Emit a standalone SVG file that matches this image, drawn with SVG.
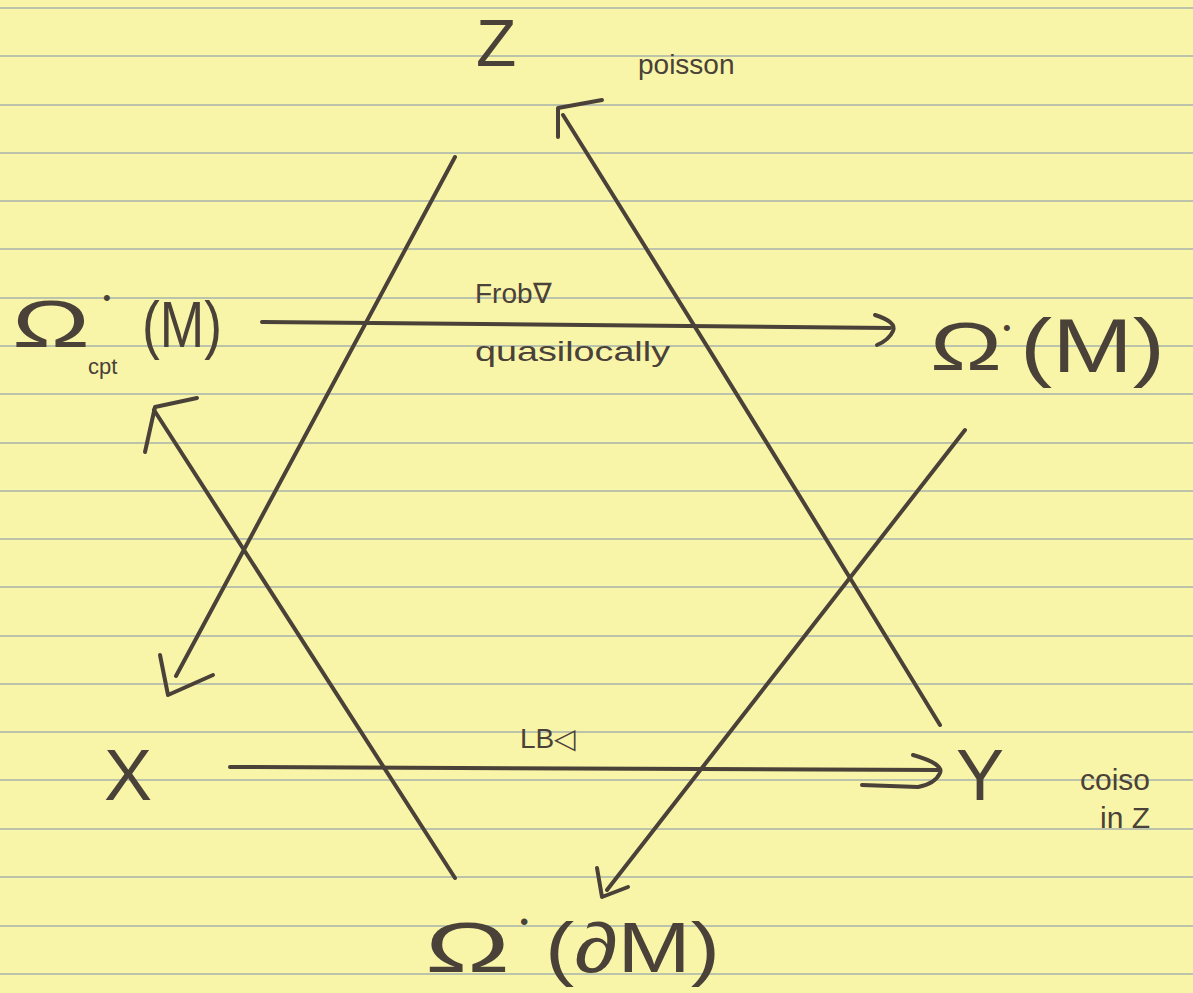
<svg xmlns="http://www.w3.org/2000/svg" width="1193" height="993" viewBox="0 0 1193 993">
<defs>
<style>
.rule{stroke:#bcc3ab;stroke-width:2;fill:none}
.ink{stroke:#4a4138;stroke-width:4;fill:none;stroke-linecap:round;stroke-linejoin:round}
.t{fill:#4a4138;font-family:"Liberation Sans",Arial,sans-serif}
.sm{font-size:28px}
</style>
</defs>
<rect x="0" y="0" width="1193" height="993" fill="#f9f5a8"/>
<g id="paper-rules">
<path class="rule" d="M0,8H1193M0,56H1193M0,105H1193M0,153H1193M0,201H1193M0,249H1193M0,298H1193M0,346H1193M0,394H1193M0,443H1193M0,491H1193M0,539H1193M0,587H1193M0,636H1193M0,684H1193M0,732H1193M0,780H1193M0,829H1193M0,877H1193M0,926H1193M0,974H1193"/>
</g>
<g id="connectors">
<path class="ink" d="M455,157 L176,676"/>
<path class="ink" d="M160,655 L168,695 L213,675"/>
<path class="ink" d="M455,878 L154,410"/>
<path class="ink" d="M145,452 L155,407 L197,398"/>
<path class="ink" d="M940,725 Q760,430 563,115"/>
<path class="ink" d="M558,137 L558,108 L602,100"/>
<path class="ink" d="M965,430 L607,890"/>
<path class="ink" d="M597,868 L602,897 L628,887"/>
<path class="ink" d="M262,322 L890,328"/>
<path class="ink" d="M875,315 Q897,322 893,331 Q889,340 877,345"/>
<path class="ink" d="M230,767 L940,770"/>
<path class="ink" d="M913,755 Q944,764 940,773 Q935,784 918,787 L862,785"/>
</g>
<g id="node-Z"><text class="t" x="476" y="66" font-size="66">Z</text></g>
<g id="label-poisson"><text class="t sm" x="638" y="74">poisson</text></g>
<g id="node-omega-cpt">
<text class="t" x="12" y="347" font-size="66" textLength="78" lengthAdjust="spacingAndGlyphs">Ω</text>
<text class="t" x="103" y="305" font-size="22">•</text>
<text class="t" x="88" y="374" font-size="22">cpt</text>
<text class="t" x="142" y="347" font-size="64" textLength="80" lengthAdjust="spacingAndGlyphs">(M)</text>
</g>
<g id="node-omega-M">
<text class="t" x="930" y="370" font-size="68" textLength="72" lengthAdjust="spacingAndGlyphs">Ω</text>
<text class="t" x="1003" y="335" font-size="22">•</text>
<text class="t" x="1020" y="372" font-size="76" textLength="145" lengthAdjust="spacingAndGlyphs">(M)</text>
</g>
<g id="label-frob">
<text class="t sm" x="475" y="303">Frob∇</text>
<text class="t sm" x="475" y="361" textLength="195" lengthAdjust="spacingAndGlyphs">quasilocally</text>
</g>
<g id="node-X"><text class="t" x="104" y="800" font-size="72">X</text></g>
<g id="label-LB"><text class="t sm" x="520" y="748">LB◁</text></g>
<g id="node-Y"><text class="t" x="956" y="800" font-size="72">Y</text></g>
<g id="label-coiso">
<text class="t" x="1080" y="790" font-size="30">coiso</text>
<text class="t" x="1100" y="828" font-size="30">in Z</text>
</g>
<g id="node-omega-dM">
<text class="t" x="425" y="972" font-size="70" textLength="85" lengthAdjust="spacingAndGlyphs">Ω</text>
<text class="t" x="520" y="930" font-size="24">•</text>
<text class="t" x="545" y="972" font-size="70" textLength="175" lengthAdjust="spacingAndGlyphs">(∂M)</text>
</g>
</svg>
